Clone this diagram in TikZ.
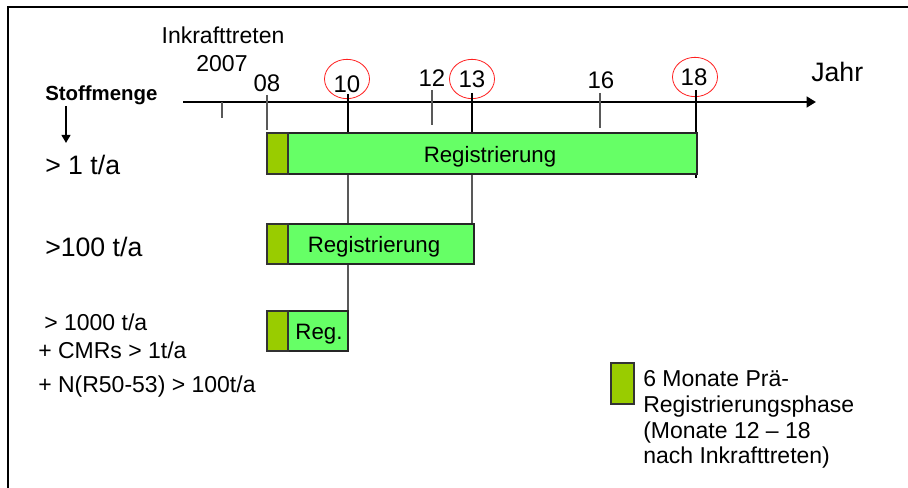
\documentclass[tikz,border=0pt]{standalone}
\usepackage{fontspec}
\setmainfont{Liberation Sans}
\usetikzlibrary{arrows.meta,shapes.geometric}
\definecolor{pregreen}{HTML}{99CC00}
\definecolor{reggreen}{HTML}{66FF66}
\definecolor{ringred}{HTML}{FF2020}
\begin{document}
\begin{tikzpicture}[x=0.75pt,y=-0.75pt,
  lbl/.style={inner sep=0pt,font=\fontsize{17.25pt}{20pt}\selectfont},
  biglbl/.style={inner sep=0pt,font=\fontsize{20pt}{24pt}\selectfont},
  numlbl/.style={inner sep=0pt,anchor=base,font=\fontsize{18pt}{21pt}\selectfont},
  bartxt/.style={inner sep=0pt,anchor=base,font=\fontsize{16.7pt}{20pt}\selectfont},
  prebox/.style={draw=black!80,line width=0.8pt,fill=pregreen},
  regbox/.style={draw=black!85,line width=0.8pt,fill=reggreen},
  thintick/.style={draw=black!65,line width=0.8pt},
  thicktick/.style={draw=black,line width=1.5pt},
  link/.style={draw=black!65,line width=0.9pt},
  ring/.style={draw=ringred,line width=0.6pt,ellipse,minimum width=33.75pt,minimum height=29.5pt,inner sep=0pt}
]
\useasboundingbox (0,0) rectangle (908,488);
\fill[white] (0,0) rectangle (908,488);
% frame (only top and left edges are visible)
\coordinate (frBL) at (8,494);
\coordinate (frTL) at (8,7);
\coordinate (frTR) at (914,7);
\draw[line width=1.5pt] (frBL) -- (frTL) -- (frTR);

% axis
\coordinate (axL) at (183,102);
\coordinate (axR) at (816,102);
\draw[line width=2pt,-{Triangle[length=7pt,width=8pt]}] (axL) -- (axR);
\node[biglbl,anchor=base west] (jahr) at (811,82) {Jahr};

% top labels
\node[lbl,anchor=base] (inkraft) at (223,44) {Inkrafttreten};
\node[lbl,anchor=base] (y07) at (222,72) {2007};
\node[numlbl] (y08) at (267,92) {08};
\node[numlbl] (y10) at (347,93) {10};
\node[numlbl] (y12) at (432,87) {12};
\node[numlbl] (y13) at (472,88) {13};
\node[numlbl] (y16) at (601,89) {16};
\node[numlbl] (y18) at (694,86) {18};

% red rings
\node[ring] (c10) at (347,79) {};
\node[ring] (c13) at (472,79) {};
\node[ring] (c18) at (695,77) {};

% ticks
\coordinate (t07a) at (222,102); \coordinate (t07b) at (222,118);
\coordinate (t08a) at (267,95);  \coordinate (t08b) at (267,130);
\coordinate (t10a) at (348,94);  \coordinate (t10b) at (348,133);
\coordinate (t12a) at (432,90);  \coordinate (t12b) at (432,125);
\coordinate (t13a) at (472,93);  \coordinate (t13b) at (472,133);
\coordinate (t16a) at (600,93);  \coordinate (t16b) at (600,128);
\coordinate (t18a) at (696,90);  \coordinate (t18b) at (696,178);
\draw[thintick] (t07a) -- (t07b);
\draw[thintick] (t08a) -- (t08b);
\draw[thicktick] (t10a) -- (t10b);
\draw[thintick] (t12a) -- (t12b);
\draw[thicktick] (t13a) -- (t13b);
\draw[thintick] (t16a) -- (t16b);
\draw[thicktick] (t18a) -- (t18b);

% Stoffmenge
\node[inner sep=0pt,anchor=base west,font=\fontsize{15.3pt}{18pt}\selectfont\bfseries] (stoff) at (45,101) {Stoffmenge};
\coordinate (arrA) at (66,106);
\coordinate (arrB) at (66,143);
\draw[line width=1.5pt,-{Triangle[length=6pt,width=6.5pt]}] (arrA) -- (arrB);

% row labels
\node[biglbl,anchor=base west] (r1lbl) at (45,175) {> 1 t/a};
\node[biglbl,anchor=base west] (r2lbl) at (45,257) {>100 t/a};
\node[lbl,anchor=base west] (r3lbl) at (44,331) {> 1000 t/a};
\node[lbl,anchor=base west] (r3b) at (38,359) {+ CMRs > 1t/a};
\node[lbl,anchor=base west] (r3c) at (38,393) {+ N(R50-53) > 100t/a};

% connectors between bars
\coordinate (v10a) at (348,174); \coordinate (v10b) at (348,224);
\coordinate (v10c) at (348,264); \coordinate (v10d) at (348,311);
\coordinate (v13a) at (472,174); \coordinate (v13b) at (472,224);
\draw[link] (v10a) -- (v10b);
\draw[link] (v10c) -- (v10d);
\draw[link] (v13a) -- (v13b);

% bars
\draw[regbox] (288,133) rectangle (697,174);
\draw[prebox] (267,133) rectangle (288,174);
\node[bartxt] (reg1) at (490,163) {Registrierung};

\draw[regbox] (288,224) rectangle (474,264);
\draw[prebox] (267,224) rectangle (288,264);
\node[bartxt] (reg2) at (374,253) {Registrierung};

\draw[regbox] (288,311) rectangle (348,351);
\draw[prebox] (267,311) rectangle (288,351);
\node[bartxt] (reg3) at (319,340) {Reg.};

% legend
\draw[prebox] (611,363) rectangle (634,404);
\node[lbl,anchor=base west] (leg1) at (643,387) {6 Monate Prä-};
\node[lbl,anchor=base west] (leg2) at (643,413) {Registrierungsphase};
\node[lbl,anchor=base west] (leg3) at (643,439) {(Monate 12 – 18};
\node[lbl,anchor=base west] (leg4) at (643,464) {nach Inkrafttreten)};
\end{tikzpicture}
\end{document}
